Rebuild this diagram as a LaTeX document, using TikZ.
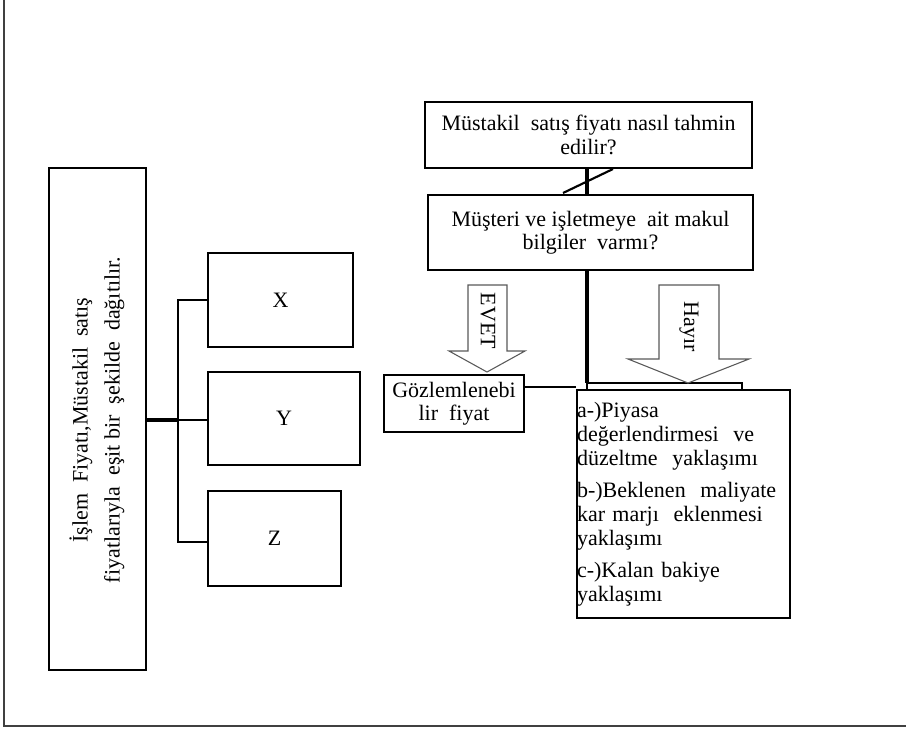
\documentclass[tikz,border=0pt]{standalone}
\usepackage{fontspec}
\setmainfont{Liberation Serif}
\newcommand\boxfont{\fontsize{16.5}{17.5}\selectfont}
\tikzset{
  box/.style={draw, line width=1.5pt, fill=white, inner sep=0pt, align=center, font=\boxfont},
  link/.style={line width=1.4pt},
  heavy/.style={line width=2.3pt},
  fatarrow/.style={draw=black!65, line width=0.8pt, fill=white, line join=miter},
  frame/.style={draw=black!75, line width=0.9pt}
}
\begin{document}
\begin{tikzpicture}[x=0.75pt, y=-0.75pt]
\useasboundingbox (0,0) rectangle (906,733);

% page frame (left and bottom rule)
\draw[frame] (4,0) -- (4,726) -- (906,726);

% left part: allocation of transaction price
\node[box, minimum width=72.75pt, minimum height=376.5pt] (main) at (97.5,419) {};
\node[rotate=90, align=center, font=\boxfont] (maintext) at (98,420)
  {\strut İşlem\ \ Fiyatı,Müstakil\ \ satış\\[6.5pt]\strut fiyatlarıyla\ \ eşit bir\ \ şekilde\ \ dağıtılır.};

\node[box, minimum width=108.75pt, minimum height=70.5pt] (X) at (280.5,300) {X};
\node[box, minimum width=114pt, minimum height=69.75pt] (Y) at (284,418.5) {Y};
\node[box, minimum width=99.75pt, minimum height=71.25pt] (Z) at (274.5,538.5) {Z};

\coordinate (bus) at (178,420);
\draw[line width=2.6pt] (main.east |- bus) -- (bus);
\draw[link] (X.west) -| (bus) |- (Z.west |- 0,542);
\draw[line width=0.9pt] (bus) -- (Y.west |- bus);

% right part: estimating the stand-alone selling price
\node[box, minimum width=245.25pt, minimum height=49.5pt] (q1) at (588.5,135)
  {Müstakil\ \ satış fiyatı nasıl tahmin\\edilir?};
\node[box, minimum width=243.75pt, minimum height=56.25pt] (q2) at (590.5,232.5)
  {Müşteri ve işletmeye\ \ ait makul\\bilgiler\ \ varmı?};

\coordinate (spine) at (587,0);
\draw[heavy] (q1.south -| spine) -- (q2.north -| spine);
\draw[line width=1.6pt] (q1.south -| 613,0) -- (563,193);

% rectangle lying behind the method list
\coordinate (bk) at (587,383);
\draw[heavy] (q2.south -| spine) -- (bk);
\draw[line width=1.5pt] (587,420) -- (bk) -- (742,383) -- (742,420);

% yes / no arrows
\draw[fatarrow] (468,285) -- (507,285) -- (507,351) -- (525,351) -- (487,372)
  -- (449,351) -- (468,351) -- cycle;
\node[rotate=-90, font=\boxfont] (yes) at (488,321) {EVET};
\draw[fatarrow] (659,285) -- (719,285) -- (719,359) -- (749,359) -- (688,383)
  -- (628,359) -- (659,359) -- cycle;
\node[rotate=-90, font=\boxfont] (no) at (689,327) {Hayır};

\node[box, minimum width=105pt, minimum height=42.75pt] (obs) at (454,403.5)
  {Gözlemlenebi\\lir\ \ fiyat};

\node[box, minimum width=159.75pt, minimum height=171pt, text width=159.75pt,
      align=left, font={\fontsize{16.5}{18}\selectfont}] (methods) at (683.5,504)
  {a-)Piyasa\\değerlendirmesi\ \ ve\\düzeltme\ \ yaklaşımı\\[6pt]
   b-)Beklenen\ \ maliyate\\kar marjı\ \ eklenmesi\\yaklaşımı\\[6pt]
   c-)Kalan bakiye\\yaklaşımı};

\coordinate (lk) at (0,387);
\draw[line width=1.2pt] (obs.east |- lk) -- (methods.west |- lk);
\end{tikzpicture}
\end{document}
